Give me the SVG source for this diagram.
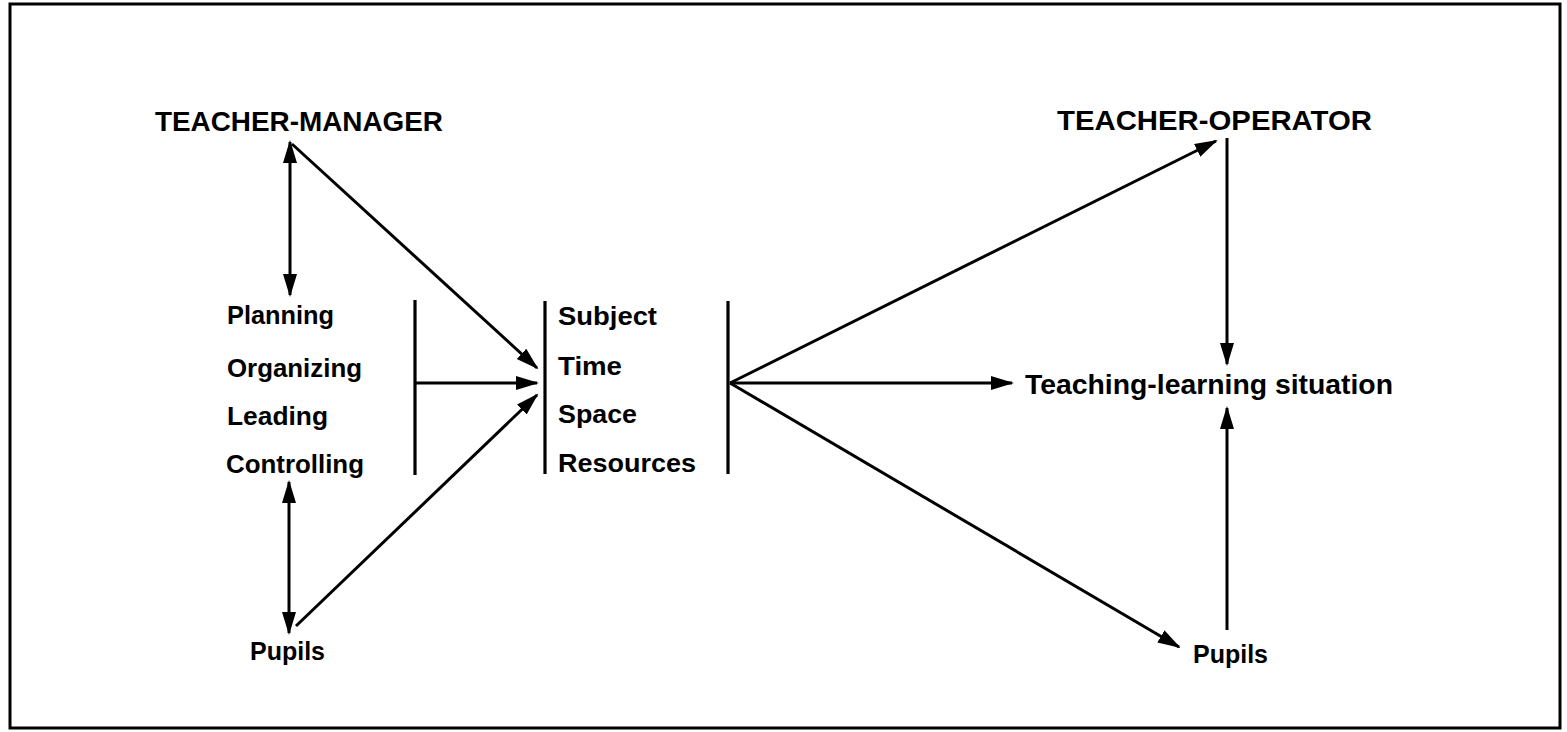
<svg xmlns="http://www.w3.org/2000/svg" width="1567" height="732" viewBox="0 0 1567 732">
<defs>
<marker id="ah" markerUnits="userSpaceOnUse" markerWidth="26" markerHeight="16" refX="21" refY="7" orient="auto-start-reverse">
<path d="M0,0 L23,7 L0,14 z" fill="#000"/>
</marker>
<style>
.t{font-family:"Liberation Sans",Arial,sans-serif;font-weight:bold;fill:#000;}
.big{font-size:28px;}
.sm{font-size:25px;}
.c line{stroke:#000;stroke-width:3;fill:none;}
.bar{stroke:#000;stroke-width:3.2;}
</style>
</defs>
<rect x="0" y="0" width="1567" height="732" fill="#fff"/>
<rect x="10" y="4" width="1550" height="724" fill="none" stroke="#000" stroke-width="3"/>

<g id="teacher-manager"><text class="t big" x="155" y="131" textLength="288" lengthAdjust="spacingAndGlyphs">TEACHER-MANAGER</text></g>
<g id="functions">
<text class="t sm" x="227" y="324" textLength="107" lengthAdjust="spacingAndGlyphs">Planning</text>
<text class="t sm" x="227" y="377" textLength="135" lengthAdjust="spacingAndGlyphs">Organizing</text>
<text class="t sm" x="227" y="425" textLength="101" lengthAdjust="spacingAndGlyphs">Leading</text>
<text class="t sm" x="226" y="473" textLength="138" lengthAdjust="spacingAndGlyphs">Controlling</text>
<line class="bar" x1="415" y1="300" x2="415" y2="475"/>
</g>
<g id="pupils-left"><text class="t sm" x="250" y="660" textLength="75" lengthAdjust="spacingAndGlyphs">Pupils</text></g>
<g id="resources">
<line class="bar" x1="545" y1="301" x2="545" y2="474"/>
<text class="t sm" x="558" y="325" textLength="99" lengthAdjust="spacingAndGlyphs">Subject</text>
<text class="t sm" x="558" y="375" textLength="64" lengthAdjust="spacingAndGlyphs">Time</text>
<text class="t sm" x="558" y="423" textLength="79" lengthAdjust="spacingAndGlyphs">Space</text>
<text class="t sm" x="558" y="472" textLength="138" lengthAdjust="spacingAndGlyphs">Resources</text>
<line class="bar" x1="728" y1="301" x2="728" y2="474"/>
</g>
<g id="teacher-operator"><text class="t big" x="1057" y="130" textLength="315" lengthAdjust="spacingAndGlyphs">TEACHER-OPERATOR</text></g>
<g id="situation"><text class="t big" x="1025" y="394" textLength="368" lengthAdjust="spacingAndGlyphs">Teaching-learning situation</text></g>
<g id="pupils-right"><text class="t sm" x="1193" y="663" textLength="75" lengthAdjust="spacingAndGlyphs">Pupils</text></g>

<g id="connectors" class="c">
<line x1="290" y1="142" x2="290" y2="295" marker-start="url(#ah)" marker-end="url(#ah)"/>
<line x1="292" y1="144" x2="537" y2="368" marker-end="url(#ah)"/>
<line x1="415" y1="383" x2="537" y2="383" marker-end="url(#ah)"/>
<line x1="289" y1="482" x2="289" y2="633" marker-start="url(#ah)" marker-end="url(#ah)"/>
<line x1="296" y1="626" x2="537" y2="395" marker-end="url(#ah)"/>
<line x1="730" y1="383" x2="1216" y2="141" marker-end="url(#ah)"/>
<line x1="730" y1="383" x2="1012" y2="383" marker-end="url(#ah)"/>
<line x1="730" y1="383" x2="1179" y2="647" marker-end="url(#ah)"/>
<line x1="1227" y1="138" x2="1227" y2="364" marker-end="url(#ah)"/>
<line x1="1227" y1="630" x2="1227" y2="408" marker-end="url(#ah)"/>
</g>
</svg>
